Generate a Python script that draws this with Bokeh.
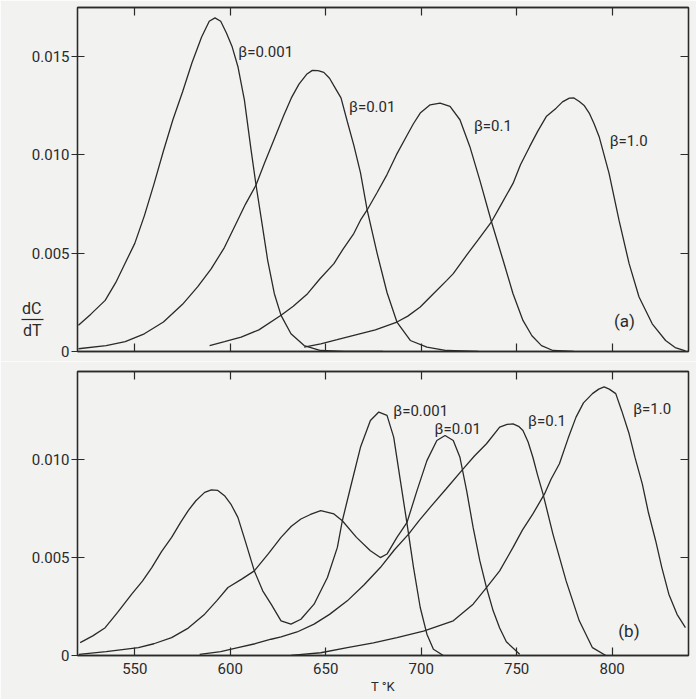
from bokeh.plotting import figure
from bokeh.models import Range1d, LinearAxis, FixedTicker, Label, NumeralTickFormatter
from bokeh.layouts import column
from bokeh.embed import file_html
from bokeh.resources import INLINE

# ---------------- data ----------------
x_ticks = [550, 600, 650, 700, 750, 800]
y_ticks_a = [0, 0.005, 0.010, 0.015]
y_ticks_b = [0, 0.005, 0.010]
y_tick_labels = {0: "0", 0.005: "0.005", 0.01: "0.010", 0.015: "0.015"}
series_names = ["\u03b2=0.001", "\u03b2=0.01", "\u03b2=0.1", "\u03b2=1.0"]
y_title = "dC\ndT"
x_title = "T \u00b0K"
panel_tags = ["(a)", "(b)"]

# panel (a)
a_T_0001 = [520.5, 527, 534.5, 540, 545, 550, 555, 560, 565, 570, 575, 580, 585, 589, 592, 595,
            598, 601, 604, 607.4, 610.9, 613.5, 616.1, 619.6, 623.1, 626.6, 631.8, 638.7, 647.4,
            660, 680]
a_V_0001 = [0.00133, 0.0019, 0.0026, 0.0035, 0.0045, 0.0055, 0.0069, 0.0085, 0.0102, 0.0118,
            0.0132, 0.0147, 0.0160, 0.0168, 0.01697, 0.0168, 0.0162, 0.0155, 0.0145, 0.0128,
            0.01026, 0.00847, 0.00685, 0.00464, 0.00294, 0.00184, 0.0009, 0.0003, 0.00005, 0, 0]

a_T_001 = [520.5, 535, 545, 555, 565, 575, 583, 590, 597, 603, 608, 613.5, 618, 623, 628, 632,
           636, 640, 643, 646, 649, 652, 655, 658, 661.3, 664.7, 668.2, 671.7, 676.9, 682.1,
           687.3, 694.3, 703, 713.4, 730]
a_V_001 = [0.00014, 0.0003, 0.0005, 0.0009, 0.0015, 0.0024, 0.0033, 0.0042, 0.0053, 0.0065,
           0.0075, 0.00847, 0.0096, 0.0108, 0.0120, 0.0129, 0.0136, 0.0141, 0.0143, 0.01429,
           0.0142, 0.0139, 0.0134, 0.0129, 0.0117, 0.0105, 0.0091, 0.0072, 0.005, 0.0030,
           0.0015, 0.00056, 0.00022, 0.00005, 0]

a_T_01 = [589.2, 597, 605.7, 615, 626.6, 633, 640.5, 647, 654.3, 659, 664.7, 668.2, 671.7, 677,
          682.1, 687, 692.6, 696, 699.5, 704.7, 709.9, 715.1, 720.3, 725.5, 730.7, 736.8, 742.9,
          748.1, 753.3, 758, 763, 769, 780]
a_V_01 = [0.0003, 0.0005, 0.00073, 0.0011, 0.00184, 0.0023, 0.00294, 0.0037, 0.00447, 0.0052,
          0.006, 0.00668, 0.0072, 0.0081, 0.0090, 0.0100, 0.0110, 0.0116, 0.01213, 0.01255,
          0.01264, 0.01247, 0.01179, 0.01042, 0.00872, 0.0066, 0.00464, 0.00294, 0.00158,
          0.0008, 0.0003, 0.00005, 0]

a_T_1 = [638.7, 647.4, 656, 664.7, 676, 687.3, 693, 699.5, 706, 713.4, 716.8, 723.8, 730, 736.8,
         742, 748.1, 752, 756.8, 761, 765.5, 770.7, 774, 777.6, 780, 782.8, 785.5, 788, 790.5,
         793.2, 798.4, 803.6, 808.9, 814.1, 821, 828, 833, 838.4]
a_V_1 = [0.00022, 0.00039, 0.0006, 0.00082, 0.0011, 0.0015, 0.0018, 0.00226, 0.0029, 0.00362,
         0.00396, 0.0049, 0.0057, 0.0066, 0.0075, 0.00855, 0.0095, 0.01042, 0.0112, 0.01195,
         0.01238, 0.0127, 0.01289, 0.0129, 0.01272, 0.0125, 0.01213, 0.0116, 0.01093, 0.00906,
         0.00668, 0.00447, 0.00277, 0.00141, 0.00056, 0.0002, 0.00003]

# panel (b)
b_T_0001 = [521.4, 528, 534.5, 541, 548.4, 554, 558.9, 564, 569.3, 574, 578, 582, 586.6, 590.1,
            593.5, 597, 600.5, 604, 608, 612.6, 617, 621.4, 626.6, 631.8, 637, 643.9, 650.9,
            656.1, 658.7, 663, 668.2, 673.4, 677.8, 682.1, 685.6, 689.1, 692.6, 696, 699.5, 703,
            706.4, 711.6]
b_V_0001 = [0.00066, 0.001, 0.00142, 0.0022, 0.00313, 0.0038, 0.00449, 0.0053, 0.00603, 0.0068,
            0.0074, 0.0079, 0.00833, 0.00846, 0.00843, 0.00816, 0.0077, 0.00705, 0.0058, 0.00432,
            0.0033, 0.00262, 0.00177, 0.0016, 0.00185, 0.00262, 0.00398, 0.00552, 0.00688,
            0.00859, 0.01063, 0.012, 0.01243, 0.01226, 0.01115, 0.00893, 0.00672, 0.00449,
            0.00245, 0.00109, 0.00032, 0]

b_T_001 = [520.7, 535, 551.9, 560, 569.3, 578, 586.6, 593, 598.8, 606, 612.6, 620, 626.6, 632,
           637, 642, 647.4, 654.3, 658.7, 666.1, 673.4, 678.6, 682.1, 687.3, 692.6, 697.8, 703,
           708.2, 712.5, 716.8, 720.3, 723.8, 727.2, 730.7, 734.2, 737.7, 741.1, 744.6, 751.6]
b_V_001 = [0.00006, 0.0002, 0.0004, 0.0006, 0.00091, 0.0014, 0.00211, 0.0028, 0.00347, 0.0039,
           0.00432, 0.0052, 0.00603, 0.0066, 0.00697, 0.0072, 0.0074, 0.00723, 0.00688, 0.00603,
           0.00535, 0.005, 0.00518, 0.00603, 0.0068, 0.00842, 0.00995, 0.01098, 0.01123,
           0.01098, 0.01012, 0.00842, 0.00654, 0.00484, 0.00347, 0.00228, 0.0014, 0.0007,
           0.00006]

b_T_01 = [584, 595, 604, 613, 621.4, 626.6, 635, 643.9, 652, 661.3, 670, 678.6, 686, 693.4, 699,
          704.7, 713, 722, 728, 734.2, 741.1, 745, 748.1, 751, 753.3, 756, 758.5, 761, 763.8,
          769, 775.9, 782.8, 789.7, 796.7]
b_V_01 = [0.00006, 0.0002, 0.0004, 0.0006, 0.00083, 0.00095, 0.0012, 0.0016, 0.0021, 0.00279,
          0.0036, 0.00449, 0.0054, 0.0062, 0.0069, 0.00756, 0.0085, 0.00953, 0.0102, 0.01081,
          0.01166, 0.0118, 0.01183, 0.0117, 0.01149, 0.0109, 0.01012, 0.0092, 0.00825, 0.0062,
          0.00381, 0.00177, 0.0004, 0]

b_T_1 = [631.8, 647.4, 661.3, 675, 687.3, 701.2, 716.8, 727.2, 734.2, 741.1, 748.1, 753, 758.5,
         764.6, 768, 772.4, 777, 781.1, 785, 789.7, 793, 795.8, 798.5, 801.9, 805, 808.9, 812,
         815.8, 819, 822.8, 826, 829.7, 834, 838.4]
b_V_1 = [0.00001, 0.00014, 0.0004, 0.00065, 0.00091, 0.00125, 0.00177, 0.00262, 0.00347,
         0.00432, 0.00552, 0.0064, 0.00723, 0.00825, 0.009, 0.00979, 0.0111, 0.01217, 0.0129,
         0.01337, 0.0136, 0.01371, 0.0136, 0.01337, 0.0125, 0.01132, 0.0101, 0.00876, 0.0073,
         0.00586, 0.0045, 0.00313, 0.0021, 0.00142]

# label anchor positions (data units)
a_label_pos = [(604.2, 0.01525), (662.2, 0.01242), (727.6, 0.01148), (798.7, 0.01069)]
b_label_pos = [(685.4, 0.01246), (707.0, 0.01157), (756.0, 0.01198), (811.0, 0.01256)]
tag_pos = [(806.5, 0.00153), (808.8, 0.00123)]
y_title_at = 0.00163

# ---------------- styling ----------------
BG = "#f2f2f1"
INK = "#2a2a2a"
FONT = "Roboto"


def style_axis(ax, ticks, show_labels, tick_in, tick_out):
    ax.ticker = FixedTicker(ticks=ticks)
    ax.axis_line_color = INK
    ax.axis_line_width = 1.3
    ax.major_tick_line_color = INK
    ax.major_tick_line_width = 1.2
    ax.minor_tick_line_color = None
    ax.major_tick_in = tick_in
    ax.major_tick_out = tick_out
    if show_labels:
        ax.major_label_text_font = FONT
        ax.major_label_text_font_size = "15px"
        ax.major_label_text_color = INK
    else:
        ax.major_label_text_font_size = "0px"
        ax.major_label_text_color = None
        ax.major_label_standoff = 0


def make_panel(height, y_end, y_ticks, b_top, b_bottom, b_left, b_right, x_labels):
    p = figure(width=696, height=height, x_range=Range1d(520, 840), y_range=Range1d(0, y_end),
               output_backend="svg", toolbar_location=None,
               min_border_top=b_top, min_border_bottom=b_bottom,
               min_border_left=b_left, min_border_right=b_right)
    p.background_fill_color = BG
    p.border_fill_color = BG
    p.outline_line_color = INK
    p.outline_line_width = 1.3
    p.grid.visible = False
    left = p.yaxis[0]
    bottom = p.xaxis[0]
    style_axis(left, y_ticks, True, 7, 6)
    left.formatter = NumeralTickFormatter(format="0.000")
    left.major_label_overrides = {k: v for k, v in y_tick_labels.items() if k in y_ticks}
    left.major_label_standoff = 2
    style_axis(bottom, x_ticks, x_labels, 8, 0)
    if x_labels:
        bottom.major_label_standoff = 7
    ra = LinearAxis()
    style_axis(ra, y_ticks[1:], False, 8, 0)
    p.add_layout(ra, "right")
    ta = LinearAxis()
    style_axis(ta, x_ticks, False, 8, 0)
    p.add_layout(ta, "above")
    return p, bottom


pa, pa_bottom = make_panel(361, 0.0175, y_ticks_a, 7, 10, 77, 7, False)
pb, pb_bottom = make_panel(338, 0.0145, y_ticks_b, 10, 44, 75, 8, True)
pb_bottom.axis_label = x_title
pb_bottom.axis_label_text_font = FONT
pb_bottom.axis_label_text_font_size = "13px"
pb_bottom.axis_label_text_font_style = "normal"
pb_bottom.axis_label_text_color = INK
pb_bottom.axis_label_standoff = 2

# dC/dT written as a fraction: a second left axis whose single tick is the fraction bar
frac = LinearAxis(ticker=FixedTicker(ticks=[y_title_at]))
frac.axis_line_color = None
frac.minor_tick_line_color = None
frac.major_tick_line_color = INK
frac.major_tick_line_width = 1.2
frac.major_tick_out = 7
frac.major_tick_in = 15
frac.major_label_overrides = {y_title_at: y_title}
frac.major_label_text_font = FONT
frac.major_label_text_font_size = "16px"
frac.major_label_text_color = INK
frac.major_label_standoff = -20
pa.add_layout(frac, "left")

for T, V in [(a_T_0001, a_V_0001), (a_T_001, a_V_001), (a_T_01, a_V_01), (a_T_1, a_V_1)]:
    pa.line(T, V, line_color=INK, line_width=1.3)
for T, V in [(b_T_0001, b_V_0001), (b_T_001, b_V_001), (b_T_01, b_V_01), (b_T_1, b_V_1)]:
    pb.line(T, V, line_color=INK, line_width=1.3)

for p, positions in [(pa, a_label_pos), (pb, b_label_pos)]:
    for name, (x, y) in zip(series_names, positions):
        p.add_layout(Label(x=x, y=y, text=name, text_font=FONT, text_font_size="15px",
                           text_color=INK, text_align="left", text_baseline="middle"))

for p, tag, (x, y) in zip([pa, pb], panel_tags, tag_pos):
    p.add_layout(Label(x=x, y=y, text=tag, text_font=FONT, text_font_size="17px",
                       text_color=INK, text_align="center", text_baseline="middle"))

layout = column(pa, pb)
open("out.html", "w").write(file_html(layout, INLINE))
